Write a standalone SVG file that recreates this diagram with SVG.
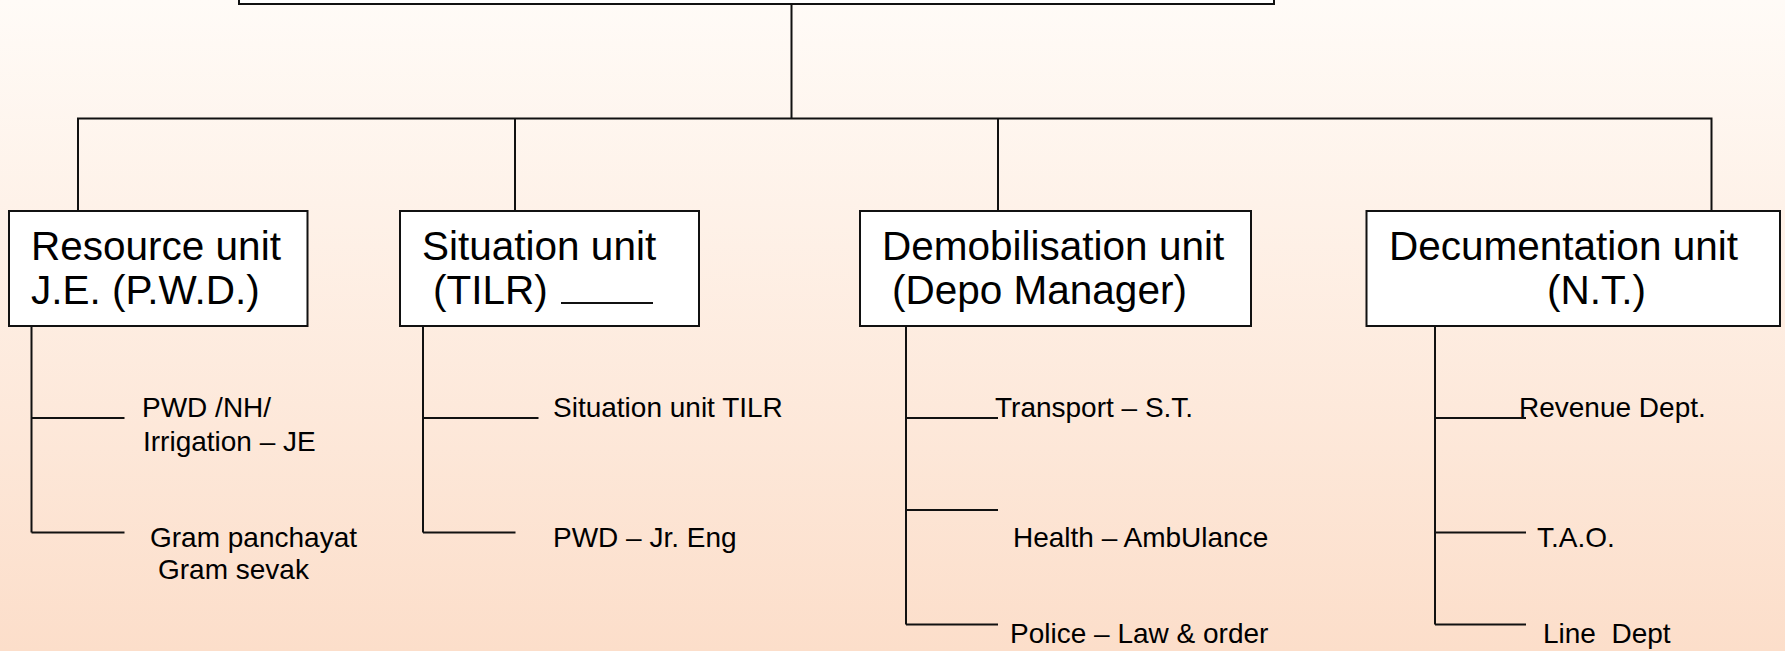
<svg xmlns="http://www.w3.org/2000/svg" width="1785" height="651" viewBox="0 0 1785 651">
<defs>
<linearGradient id="bg" x1="0" y1="0" x2="0" y2="1">
<stop offset="0" stop-color="#fffbf7"/>
<stop offset="1" stop-color="#fcdeca"/>
</linearGradient>
<style>
.box{fill:#ffffff;stroke:#111;stroke-width:2}
.ln{fill:none;stroke:#111;stroke-width:2}
.bt{font-family:"Liberation Sans",Arial,sans-serif;font-size:40.5px;fill:#000}
.st{font-family:"Liberation Sans",Arial,sans-serif;font-size:28px;fill:#000}
</style>
</defs>
<rect x="0" y="0" width="1785" height="651" fill="url(#bg)"/>
<g id="top"><rect class="box" x="239" y="-50" width="1035" height="54"/></g>
<g id="connectors">
<path class="ln" d="M791.5 4V118.5M78 210.5V118.5H1711.5V210.5M515 118.5V210.5M998 118.5V210.5"/>
<path class="ln" d="M31.5 326V532.5M31.5 418H124.5M31.5 532.5H124.5"/>
<path class="ln" d="M423 326V532.5M423 418H538.5M423 532.5H515.5"/>
<path class="ln" d="M906 326V624.5M906 418H998M906 510H998M906 624.5H998"/>
<path class="ln" d="M1435 326V624.5M1435 418H1526M1435 532.5H1526M1435 624.5H1526"/>
</g>
<g id="resource">
<rect class="box" x="9" y="211" width="298.5" height="115"/>
<text class="bt" x="31" y="260">Resource unit</text>
<text class="bt" x="31" y="304">J.E. (P.W.D.)</text>
</g>
<g id="situation">
<rect class="box" x="400" y="211" width="299" height="115"/>
<text class="bt" x="422" y="260">Situation unit</text>
<text class="bt" x="433" y="304">(TILR)</text>
<line class="ln" x1="561" y1="303" x2="653" y2="303"/>
</g>
<g id="demobilisation">
<rect class="box" x="860" y="211" width="391" height="115"/>
<text class="bt" x="882" y="260">Demobilisation unit</text>
<text class="bt" x="892" y="304">(Depo Manager)</text>
</g>
<g id="documentation">
<rect class="box" x="1366.5" y="211" width="413.5" height="115"/>
<text class="bt" x="1389" y="260">Decumentation unit</text>
<text class="bt" x="1547" y="304">(N.T.)</text>
</g>
<g id="res-items">
<text class="st" x="142" y="417">PWD /NH/</text>
<text class="st" x="143" y="451">Irrigation – JE</text>
<text class="st" x="150" y="547">Gram panchayat</text>
<text class="st" x="158" y="579">Gram sevak</text>
</g>
<g id="sit-items">
<text class="st" x="553" y="417">Situation unit TILR</text>
<text class="st" x="553" y="547">PWD – Jr. Eng</text>
</g>
<g id="demob-items">
<text class="st" x="995" y="417">Transport – S.T.</text>
<text class="st" x="1013" y="547">Health – AmbUlance</text>
<text class="st" x="1010" y="643">Police – Law &amp; order</text>
</g>
<g id="doc-items">
<text class="st" x="1519" y="417">Revenue Dept.</text>
<text class="st" x="1537" y="547">T.A.O.</text>
<text class="st" x="1543" y="643" xml:space="preserve">Line  Dept</text>
</g>
</svg>
